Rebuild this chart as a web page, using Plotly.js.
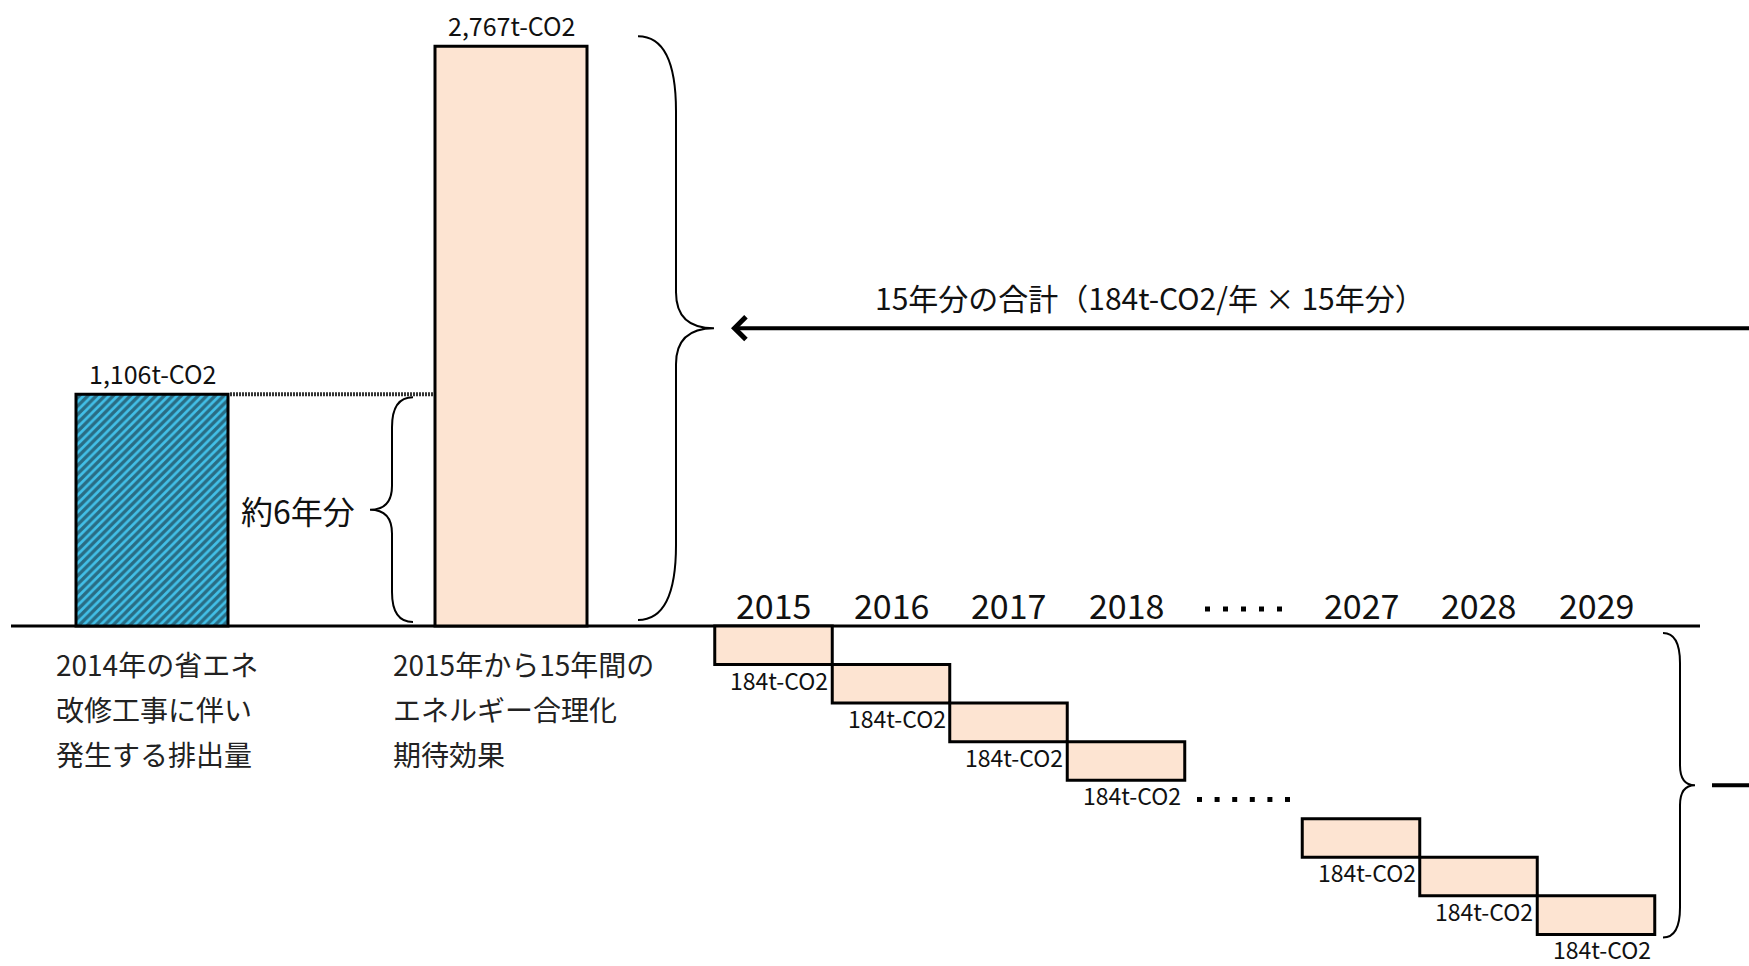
<!DOCTYPE html>
<html>
<head>
<meta charset="utf-8">
<script src="https://cdn.plot.ly/plotly-3.0.1.min.js"></script>
<style>html,body{margin:0;padding:0;background:#fff;}#chart{width:1749px;height:966px;}</style>
</head>
<body>
<div id="chart"></div>
<script>
// ---------- data ----------
const categoryLines = [
  ['2014年の省エネ', '改修工事に伴い', '発生する排出量'],
  ['2015年から15年間の', 'エネルギー合理化', '期待効果']
];
const mainValues = [1106, 2767];
const mainValueLabels = ['1,106t-CO2', '2,767t-CO2'];
const years = ['2015', '2016', '2017', '2018', '2027', '2028', '2029'];
const yearColumns = [0, 1, 2, 3, 5, 6, 7];
const annualValues = [184, 184, 184, 184, 184, 184, 184];
const annualLabels = ['184t-CO2', '184t-CO2', '184t-CO2', '184t-CO2', '184t-CO2', '184t-CO2', '184t-CO2'];
const smallBraceText = '約6年分';
const totalText = '15年分の合計（184t-CO2/年 × 15年分）';

// ---------- layout constants ----------
const W = 1749, H = 966;
const BASE_PX = 626;          // pixel row of the zero line
const S = 0.2095;             // pixels per t-CO2
const toY = py => (BASE_PX - py) / S;
const toPx = v => BASE_PX - v * S;
const MAIN_X = [152, 511], MAIN_W = 152;
const COL0 = 773.5, COL_STEP = 117.5, COL_W = 117.5;
const colX = c => COL0 + c * COL_STEP;
const LABEL_X = [54, 391];
const LINE_PX = [664, 709, 754];
const JP = '"Noto Sans CJK JP", "Noto Sans", sans-serif';
const NUM = '"Noto Sans CJK JP", "Noto Sans", sans-serif';
const PEACH = '#fde4d2', CYAN = '#42bfe8';

// ---------- traces ----------
const traces = [];
traces.push({
  type: 'bar', x: [MAIN_X[0]], y: [mainValues[0]], width: [MAIN_W],
  marker: {color: CYAN, line: {color: '#000', width: 3},
    pattern: {shape: '/', fgcolor: '#101a20', bgcolor: CYAN, size: 6, solidity: 0.55, fillmode: 'overlay'}},
  hoverinfo: 'skip'
});
traces.push({
  type: 'bar', x: [MAIN_X[1]], y: [mainValues[1]], width: [MAIN_W],
  marker: {color: PEACH, line: {color: '#000', width: 3}}, hoverinfo: 'skip'
});
traces.push({
  type: 'bar', x: yearColumns.map(colX), y: annualValues.map(v => -v),
  base: yearColumns.map((c, i) => -c * annualValues[i]), width: yearColumns.map(() => COL_W),
  marker: {color: PEACH, line: {color: '#000', width: 3}}, hoverinfo: 'skip'
});
// dashed connector
traces.push({
  type: 'scatter', mode: 'lines',
  x: [MAIN_X[0] + MAIN_W / 2 + 2, MAIN_X[1] - MAIN_W / 2 - 2], y: [mainValues[0], mainValues[0]],
  line: {color: '#333', width: 4, dash: '2px,1px'}, hoverinfo: 'skip'
});
// ellipsis dots (decoration)
const dotsA = [-2, -1, 0, 1, 2], dotsB = [-2.5, -1.5, -0.5, 0.5, 1.5, 2.5];
traces.push({
  type: 'scatter', mode: 'markers',
  x: dotsA.map(d => colX(4) + d * 18).concat(dotsB.map(d => colX(4) + d * 17.6)),
  y: dotsA.map(() => toY(609)).concat(dotsB.map(() => -4.5 * annualValues[0])),
  marker: {symbol: 'square', size: 5, color: '#000'}, hoverinfo: 'skip'
});

// ---------- shapes ----------
function bracePath(xEnd, xSpine, xTip, yTop, yBot, rEnd, rMid) {
  const yMid = (yTop + yBot) / 2;
  const P = (x, py) => x + ',' + toY(py);
  return 'M' + P(xEnd, yTop) +
    ' Q' + P(xSpine, yTop) + ' ' + P(xSpine, yTop + rEnd) +
    ' L' + P(xSpine, yMid - rMid) +
    ' Q' + P(xSpine, yMid) + ' ' + P(xTip, yMid) +
    ' Q' + P(xSpine, yMid) + ' ' + P(xSpine, yMid + rMid) +
    ' L' + P(xSpine, yBot - rEnd) +
    ' Q' + P(xSpine, yBot) + ' ' + P(xEnd, yBot);
}
const smallTop = toPx(mainValues[0]) + 3, smallBot = BASE_PX - 4;
const bigTop = toPx(mainValues[1]) - 10, bigBot = BASE_PX - 6;
const rightTop = BASE_PX + 7, rightBot = toPx(-(yearColumns[yearColumns.length - 1] + 1) * annualValues[0]) + 3;
const bigMid = (bigTop + bigBot) / 2, rightMid = (rightTop + rightBot) / 2, smallMid = (smallTop + smallBot) / 2;

const shapes = [
  {type: 'line', xref: 'x', yref: 'y', x0: 11, x1: 1700, y0: 0, y1: 0, line: {color: '#000', width: 3}, layer: 'below'},
  {type: 'path', xref: 'x', yref: 'y', path: bracePath(413, 392, 370, smallTop, smallBot, 30, 24), line: {color: '#000', width: 2}},
  {type: 'path', xref: 'x', yref: 'y', path: bracePath(638, 676, 714, bigTop, bigBot, 75, 36), line: {color: '#000', width: 2}},
  {type: 'path', xref: 'x', yref: 'y', path: bracePath(1663, 1680, 1695, rightTop, rightBot, 30, 20), line: {color: '#000', width: 2}},
  {type: 'line', xref: 'x', yref: 'y', x0: 1712, x1: 1760, y0: toY(rightMid), y1: toY(rightMid), line: {color: '#000', width: 4}}
];

// ---------- annotations ----------
const ann = [];
mainValues.forEach((v, i) => ann.push({
  x: MAIN_X[i], y: v, text: mainValueLabels[i], showarrow: false, yanchor: 'bottom', yshift: 1,
  font: {family: NUM, size: 25, color: '#111'}
}));
categoryLines.forEach((lines, i) => lines.forEach((t, j) => ann.push({
  x: LABEL_X[i], y: toY(LINE_PX[j]), text: t, showarrow: false, xanchor: 'left', yanchor: 'middle',
  font: {family: JP, size: 28, color: '#222'}
})));
years.forEach((t, i) => ann.push({
  x: colX(yearColumns[i]), y: toY(604), text: t, showarrow: false, yanchor: 'middle',
  font: {family: NUM, size: 34, color: '#111'}
}));
annualLabels.forEach((t, i) => ann.push({
  x: colX(yearColumns[i]) + COL_W / 2 - 2, y: -(yearColumns[i] + 1) * annualValues[i], text: t,
  showarrow: false, xanchor: 'right', yanchor: 'top', yshift: 4,
  font: {family: NUM, size: 23, color: '#111'}
}));
ann.push({
  x: 357, y: toY(smallMid), text: smallBraceText, showarrow: false, xanchor: 'right', yanchor: 'middle',
  font: {family: JP, size: 32, color: '#111'}
});
ann.push({
  x: 873, y: toY(297), text: totalText, showarrow: false, xanchor: 'left', yanchor: 'middle',
  font: {family: JP, size: 30, color: '#111'}
});
ann.push({
  x: 731, y: toY(bigMid), ax: 1800, ay: toY(bigMid), axref: 'x', ayref: 'y', text: '',
  showarrow: true, arrowhead: 4, arrowsize: 1.1, arrowwidth: 4, arrowcolor: '#000', standoff: 0
});

const layout = {
  width: W, height: H, margin: {l: 0, r: 0, t: 0, b: 0},
  paper_bgcolor: '#fff', plot_bgcolor: '#fff', showlegend: false, barmode: 'overlay',
  xaxis: {range: [0, W], visible: false, fixedrange: true},
  yaxis: {range: [toY(H), toY(0)], visible: false, fixedrange: true},
  shapes: shapes, annotations: ann
};
Plotly.newPlot('chart', traces, layout, {staticPlot: true, displayModeBar: false});
</script>
</body>
</html>
